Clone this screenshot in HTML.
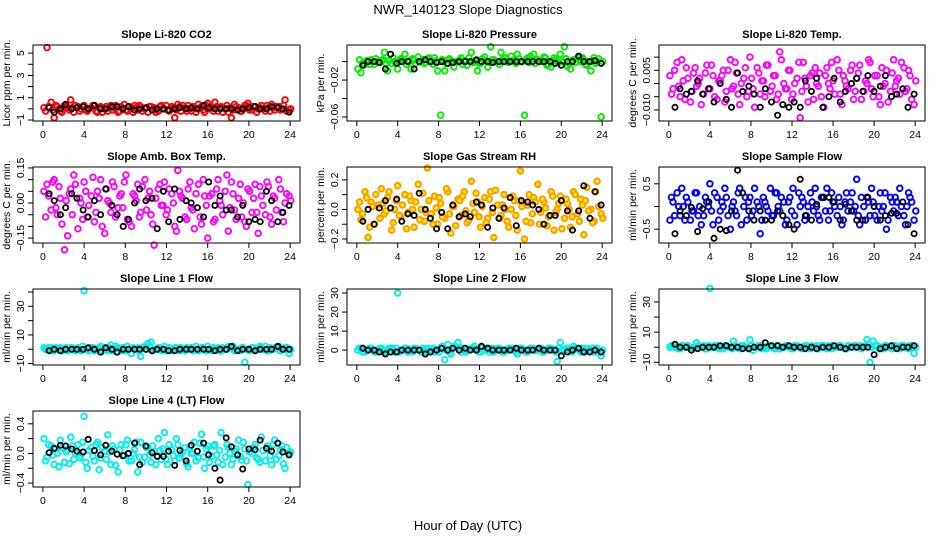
<!DOCTYPE html>
<html><head><meta charset="utf-8"><style>
html,body{margin:0;padding:0;background:#fff;}
svg{display:block;font-family:"Liberation Sans",sans-serif;}
</style></head><body>
<svg id="chart" width="936" height="540" viewBox="0 0 936 540" xmlns="http://www.w3.org/2000/svg">
<rect width="936" height="540" fill="#fff"/>
<text x="468" y="14" font-size="13" text-anchor="middle">NWR_140123  Slope Diagnostics</text>
<text x="468" y="530" font-size="13" text-anchor="middle">Hour of Day (UTC)</text>
</svg>
<script>
const cHours=[0.1,0.4,0.8,1.1,1.4,1.7,2.1,2.4,2.7,3.0,3.4,3.7,4.0,4.3,4.7,5.0,5.3,5.6,6.0,6.3,6.6,6.9,7.3,7.6,7.9,8.2,8.6,8.9,9.2,9.5,9.9,10.2,10.5,10.8,11.2,11.5,11.8,12.1,12.5,12.8,13.1,13.4,13.8,14.1,14.4,14.7,15.1,15.4,15.7,16.0,16.4,16.7,17.0,17.3,17.7,18.0,18.3,18.6,19.0,19.3,19.6,19.9,20.3,20.6,20.9,21.2,21.6,21.9,22.2,22.5,22.9,23.2,23.5,23.9];
const bHours=[0.6,1.1,1.7,2.2,2.8,3.3,3.9,4.4,5.0,5.6,6.1,6.7,7.2,7.8,8.3,8.9,9.4,10.0,10.6,11.1,11.7,12.2,12.8,13.3,13.9,14.4,15.0,15.6,16.1,16.7,17.2,17.8,18.3,18.9,19.4,20.0,20.6,21.1,21.7,22.2,22.8,23.3,23.9];
const xTicks=[0,4,8,12,16,20,24];

const co2Col=[0.1,5.5,0.6,-0.8,0.2,-0.2,0.3,0.1,0.8,-0.3,0.2,0.0,0.3,-0.2,0.1,0.3,-0.3,0.2,0.0,-0.2,0.3,0.1,-0.3,0.2,0.4,-0.2,0.1,0.3,-0.1,0.2,0.0,-0.3,0.2,0.1,-0.2,0.3,0.0,-0.1,0.2,-0.8,0.4,-0.2,0.1,0.3,-0.2,0.1,0.4,0.2,-0.3,0.5,0.1,0.6,-0.2,0.2,0.0,-0.3,-0.8,0.4,0.1,-0.2,0.3,0.5,-0.1,0.2,0.0,0.3,-0.2,0.1,0.4,-0.1,0.2,0.0,0.8,-0.1];
const co2Col2=[-0.2,0.2,-0.1,0.3,0.0,-0.3,0.2,-0.1,0.1,0.3,-0.2,0.2,-0.1,0.0,0.3,-0.2,0.1,-0.3,0.2,0.1,-0.1,0.3,-0.2,0.0,-0.1,0.2,-0.3,0.1,0.3,-0.2,0.1,0.2,-0.1,-0.3,0.2,0.0,0.3,-0.2,0.1,-0.1,0.2,0.3,-0.2,0.0,0.2,-0.3,0.1,-0.1,0.3,0.0,-0.2,0.2,0.1,-0.3,0.3,0.1,-0.1,0.2,-0.2,0.0,0.3,-0.1,0.2,-0.3,0.1,0.0,0.3,-0.2,0.1,0.2,-0.1,0.3,-0.2,0.0];
const co2Blk=[0.1,-0.3,0.0,0.4,0.0,0.1,0.2,0.0,0.3,0.0,0.0,0.2,0.2,0.0,0.2,-0.1,0.0,0.1,-0.1,0.0,0.0,-0.1,0.0,0.1,0.0,0.1,0.0,0.3,0.1,0.0,0.0,0.0,0.0,-0.1,0.0,0.1,0.2,0.0,0.0,0.2,0.1,0.0,-0.3];
const presCol=[-8,-12,-3,0,2,-3,0,1,10,-10,-2,0,-8,3,8,0,-8,2,5,0,-2,3,0,4,-10,-58,-10,2,0,-6,0,4,0,-4,10,0,-10,-2,5,-6,16,2,0,10,4,0,6,2,8,0,-58,4,6,8,2,0,5,-4,-6,4,0,8,16,-5,-8,2,4,0,2,-4,-10,4,0,-60];
const presCol2=[2,-2,1,-3,0,3,-1,2,-2,1,4,-1,0,2,-3,1,3,-2,0,2,-1,4,-3,1,0,2,-2,3,-1,0,2,-3,1,4,-1,0,-2,3,1,-1,2,0,-3,2,4,-1,1,-2,3,0,2,-1,3,-2,1,0,4,-3,1,2,-1,0,3,-2,1,-1,2,4,-3,0,1,-2,3,0];
const presBlk=[-4,0,0,-1,-8,8,-2,0,0,-8,0,2,0,-1,0,-2,-1,0,0,0,2,0,0,-1,0,0,0,0,0,0,0,0,0,0,-2,-4,0,0,6,0,0,1,-2];
const tempCol=[3,-2,8,-5,1,6,-7,4,-1,2,-4,7,-2,3,-6,1,5,-3,9,-1,4,-8,2,-5,10,-2,6,-4,1,7,-3,3,-6,12,0,-2,5,-4,2,-13,8,-1,3,-6,0,4,-9,6,-2,1,9,-4,3,-1,5,-6,2,7,-3,0,8,-5,3,-8,-1,5,-3,9,1,-4,6,-2,3,-8];
const tempCol2=[-4,5,-1,9,-6,2,-3,6,0,-8,4,-2,7,-5,1,3,-7,5,-2,8,-4,0,6,-3,2,-9,4,1,-5,7,-1,3,-4,9,-2,5,-6,0,8,-3,2,-7,4,6,-1,-5,3,0,8,-4,5,-8,1,-2,7,-3,4,-6,1,9,-2,3,-5,6,0,-7,4,-1,2,8,-3,5,-6,1];
const tempBlk=[-9,-2,-4,-3,1,-4,-2,-7,0,-6,-9,4,-3,-1,-4,-9,-2,-7,-12,-8,-9,-7,-9,1,-3,2,-9,-5,2,-7,-3,0,2,-3,3,-3,-1,3,-5,-4,-2,-9,-4];
const ambCol=[5,8,-3,10,-5,2,-20,-14,6,12,-11,0,9,-6,3,-8,5,10,-13,1,-4,7,-2,4,9,-7,-10,3,8,-4,10,2,-5,-18,6,-1,9,-3,4,-10,14,3,-6,6,-2,-11,8,-9,3,-15,4,-7,10,-1,5,-12,9,-3,2,-6,-8,6,-4,8,-13,3,-5,7,-9,2,10,-4,0,3];
const ambCol2=[-6,3,9,-2,7,-9,1,4,-5,8,2,-7,5,-1,11,-4,2,-10,6,0,9,-6,3,-2,12,-8,4,1,-6,7,-3,5,-9,2,8,-1,-5,6,0,-12,5,2,-7,9,-3,4,-6,10,-1,3,-8,6,1,-5,12,-2,4,-7,8,0,-10,5,2,-4,7,-1,9,-6,3,-3,6,-8,4,1];
const ambBlk=[4,1,-5,-2,4,2,-3,-6,1,-5,6,-1,-5,-10,-7,0,6,1,2,-11,5,-8,6,-7,1,0,-2,-6,9,-1,3,-3,-3,-6,-1,-8,-7,-8,5,1,-8,-4,-1];
const rhCol=[0,-7,12,-19,5,-10,3,14,-3,8,-14,0,16,-5,10,-2,6,-12,17,0,-8,28,-3,9,-10,4,-6,12,-16,2,7,-4,12,-9,19,-2,5,-12,8,-6,12,-19,3,-4,10,-8,0,6,-14,26,-20,3,-9,8,17,-2,5,-11,12,-14,0,9,-6,4,-12,12,-3,7,-17,15,0,-8,19,-3];
const rhCol2=[5,-3,8,-12,2,10,-6,4,-1,12,-9,6,-4,3,-13,9,0,5,-7,11,-2,6,-10,1,8,-5,14,-3,2,-11,6,9,-1,-7,4,11,-5,2,-9,7,-2,13,-6,3,0,-12,9,-4,6,2,-8,10,-3,5,-10,7,1,-5,9,-2,4,-13,7,0,-5,10,-8,3,6,-1,-9,12,2,-6];
const rhBlk=[-8,0,-10,1,6,1,7,-8,-3,-4,11,0,-6,-13,-2,-13,3,-5,-3,-5,5,3,-12,1,-6,1,8,-11,6,5,3,0,-10,-4,-4,6,-1,-14,-1,16,-6,12,3];
const flowCol=[-3,1,3,-2,0,2,-3,-1,3,0,-2,1,5,-4,2,-1,0,2,-5,1,-2,4,0,-3,2,-1,1,-6,2,0,4,-2,3,-1,1,-3,2,4,-4,0,1,-2,3,-1,0,-3,2,4,-1,1,-2,0,-3,3,1,-1,6,-4,0,2,-2,1,-3,3,0,-5,2,-1,1,4,-2,0,2,-3];
const flowCol2=[2,-2,0,4,-3,1,-1,3,-2,-4,2,0,-1,3,-3,1,4,-2,0,-1,3,-4,2,1,-2,4,0,-3,1,-1,-2,3,0,2,-4,1,-1,-2,3,2,-3,0,1,4,-2,2,-1,-3,3,0,2,-4,1,-1,3,0,-2,2,-3,1,4,-2,0,-1,3,-3,1,2,-2,0,-4,3,1,-1];
const flowBlk=[-6,-1,-2,-0.2,-5.5,-0.5,1,-7,-5,-5.3,-1,8,3,-1,-3,-1,-3,-3,-1,-2,-4,-5,6,-2,-3,0.5,2,2,1,-3,0.5,-1,-3,-3,2,0,-3,-2,-1.5,-1.5,1,-4,-6];
const l1Col=[1,0,1,-1,0,1,0,-1,1,0,1,-1,41,0,1,-1,0,2,1,-1,3,0,1,-1,0,2,-3,0,1,-5,2,4,5,0,1,-1,2,0,-1,1,0,1,-1,0,1,0,-1,1,0,2,-1,0,1,-1,0,2,1,-1,0,1,-9,0,1,-1,0,1,2,-1,0,1,2,0,1,-3];
const l1Col2=[0,1,-1,1,0,-1,1,0,1,-1,0,2,0,-1,1,0,1,-1,0,1,-1,2,0,1,-1,0,1,0,-1,1,0,2,-1,0,1,0,-1,1,0,1,-1,0,1,0,-1,2,0,1,-1,0,1,0,-1,1,0,1,2,0,-1,1,0,-1,1,0,2,0,-1,1,0,1,-1,0,1,0];
const l1Blk=[-1,0,-1,0,0,0,0,1,0,-2,1,0,-2,0,0,0,0,0,-1,0,0,-1,-1,0,0,0,0,0,0,-1,0,0,2,-1,0,0,-1,0,0,0,2,0,0];
const l2Col=[0,1,-1,0,1,-1,0,1,-1,0,1,-1,30,0,1,-1,0,1,0,-1,0,1,0,-1,0,1,-5,3,-2,2,4,-1,1,0,1,2,0,-1,0,1,0,-1,1,0,-1,0,1,0,-2,1,0,-1,1,0,0,1,-1,0,1,0,-6,4,0,1,0,2,1,-1,0,1,0,-1,1,-3];
const l2Col2=[1,-1,0,1,0,-1,1,0,-1,1,0,1,-1,0,1,0,-1,1,0,1,-1,0,1,0,-1,2,0,-1,1,2,0,1,-1,0,1,0,-1,1,0,-1,1,0,1,-1,0,1,0,-1,0,1,-1,0,1,0,1,-1,0,1,0,-1,1,0,1,0,-1,1,0,1,-1,0,1,0,-1,0];
const l2Blk=[1,0,0,-1,-2,-1,-1,0,0,0,0,-2,-1,0,1,0,1,0,1,0,0,2,1,0,0,0,0,1,0,0,0,1,0,0,0,-3,-1,0,1,-1,-1,0,-1];
const l3Col=[0,1,0,-1,1,0,-1,0,3,0,1,-1,39,0,1,0,-1,1,0,4,0,-1,1,0,5,-2,0,1,0,-1,1,0,1,-1,0,1,0,-1,1,0,0,1,-1,0,1,0,1,-1,0,1,0,1,0,-1,0,1,0,1,0,5,-10,4,1,0,-1,1,0,1,0,-1,1,0,1,-4];
const l3Col2=[1,0,-1,1,0,1,-1,0,1,0,-1,1,0,1,-1,0,1,0,-1,1,0,1,0,-1,1,0,1,-1,0,1,0,-1,1,0,1,0,-1,1,0,-1,1,0,1,0,-1,1,0,1,-1,0,1,0,-1,1,0,1,0,-1,1,2,0,1,-1,0,1,0,-1,1,0,1,0,-1,1,0];
const l3Blk=[2,0,0,-2,-1,0,0,0,1,1,0,0,-1,-1,0,0,3,1,1,0,1,0,0,-1,0,-1,0,0,1,0,-1,0,0,0,0,-5,-1,0,1,-1,0,0,1];
const l4Col=[20,-5,10,-15,0,18,-12,5,22,-8,12,-3,50,-20,8,-10,15,-6,3,25,-15,6,-25,12,-2,18,-10,5,-25,15,-5,8,-12,3,20,-8,28,-15,5,-10,12,-2,8,-18,0,15,-6,26,-20,10,-4,12,-12,28,-5,8,-15,3,18,-9,6,-42,0,12,-8,22,-10,5,-15,18,-3,10,-20,0];
const l4Col2=[-10,12,-2,6,-18,8,2,-14,10,0,-6,15,-12,4,-4,12,-22,8,-8,2,10,-16,5,-3,12,-10,0,15,-5,-12,8,-2,10,-15,4,6,-8,12,-3,20,-6,2,-14,8,0,-10,14,-5,6,-12,10,-2,4,-15,12,0,-8,6,-4,15,-10,2,8,-6,-12,4,10,-3,12,-8,5,-14,8,2];
const l4Blk=[1,7,11,10,6,3,2,19,4,-2,11,3,-1,-3,0,14,-15,10,1,-4,-4,3,-16,4,-10,11,3,14,-2,-20,-36,21,9,-2,-21,6,5,18,7,3,14,2,-2];

const NS="http://www.w3.org/2000/svg";
const svg=document.getElementById('chart');
function mk(tag,attrs,parent){const e=document.createElementNS(NS,tag);for(const k in attrs)e.setAttribute(k,attrs[k]);(parent||svg).appendChild(e);return e;}

const colsX=[[33,300],[347,612],[659,925]];
const panels=[
 {t:'Slope Li-820 CO2',yl:'Licor ppm per min.',c:0,r:0,sc:1,y0:-1.09,y1:5.73,ticks:[-1,0,1,2,3,4,5],labs:[-1,1,3,5],col:'#ff0000',cv:co2Col,cv2:co2Col2,bv:co2Blk,fmt:v=>String(v).replace('-','\u2212')},
 {t:'Slope Li-820 Pressure',yl:'kPa per min.',c:1,r:0,sc:0.001,y0:-0.0644,y1:0.018,ticks:[-0.06,-0.04,-0.02,0],labs:[-0.06,-0.02],col:'#00ee00',cv:presCol,cv2:presCol2,bv:presBlk,fmt:v=>v.toFixed(2).replace('-','\u2212')},
 {t:'Slope Li-820 Temp.',yl:'degrees C per min.',c:2,r:0,sc:0.001,y0:-0.0142,y1:0.0146,ticks:[-0.01,-0.005,0,0.005,0.01],labs:[-0.01,0.005],col:'#ff00ff',cv:tempCol,cv2:tempCol2,bv:tempBlk,fmt:v=>v.toFixed(3).replace('-','\u2212')},
 {t:'Slope Amb. Box Temp.',yl:'degrees C per min.',c:0,r:1,sc:0.01,y0:-0.171,y1:0.154,ticks:[-0.15,-0.1,-0.05,0,0.05,0.1,0.15],labs:[-0.15,0,0.15],col:'#ff00ff',cv:ambCol,cv2:ambCol2,bv:ambBlk,fmt:v=>v.toFixed(2).replace('-','\u2212')},
 {t:'Slope Gas Stream RH',yl:'percent per min.',c:1,r:1,sc:0.01,y0:-0.227,y1:0.287,ticks:[-0.2,-0.1,0,0.1,0.2],labs:[-0.2,0,0.2],col:'#ff9900',fill:'#ffee00',cv:rhCol,cv2:rhCol2,bv:rhBlk,fmt:v=>v.toFixed(1).replace('-','\u2212')},
 {t:'Slope Sample Flow',yl:'ml/min per min.',c:2,r:1,sc:0.1,y0:-0.804,y1:0.87,ticks:[-0.5,0,0.5],labs:[-0.5,0.5],col:'#0000ff',cv:flowCol,cv2:flowCol2,bv:flowBlk,fmt:v=>v.toFixed(1).replace('-','\u2212')},
 {t:'Slope Line 1 Flow',yl:'ml/min per min.',c:0,r:2,sc:1,y0:-11.0,y1:42.1,ticks:[-10,0,10,20,30,40],labs:[-10,10,30],col:'#00eeee',cv:l1Col,cv2:l1Col2,bv:l1Blk,fmt:v=>String(v).replace('-','\u2212')},
 {t:'Slope Line 2 Flow',yl:'ml/min per min.',c:1,r:2,sc:1,y0:-7.8,y1:32.1,ticks:[0,10,20,30],labs:[0,10,20,30],col:'#00eeee',cv:l2Col,cv2:l2Col2,bv:l2Blk,fmt:v=>String(v)},
 {t:'Slope Line 3 Flow',yl:'ml/min per min.',c:2,r:2,sc:1,y0:-11.8,y1:38.6,ticks:[-10,0,10,20,30],labs:[-10,10,30],col:'#00eeee',cv:l3Col,cv2:l3Col2,bv:l3Blk,fmt:v=>String(v).replace('-','\u2212')},
 {t:'Slope Line 4 (LT) Flow',yl:'ml/min per min.',c:0,r:3,sc:0.01,y0:-0.453,y1:0.573,ticks:[-0.4,-0.2,0,0.2,0.4],labs:[-0.4,0,0.4],col:'#00eeee',cv:l4Col,cv2:l4Col2,bv:l4Blk,fmt:v=>v.toFixed(1).replace('-','\u2212')}
];

panels.forEach((p,pi)=>{
  const L=colsX[p.c][0],R=colsX[p.c][1],T=45+122*p.r,B=T+76;
  const g=mk('g',{});
  
  
  const xs=h=>L+(h+0.96)/25.92*(R-L);
  const ys=v=>B-(v-p.y0)/(p.y1-p.y0)*(B-T);
  const ti=mk('text',{x:(L+R)/2,y:T-7,'font-size':11,'font-weight':'bold','text-anchor':'middle'},g);
  ti.textContent=p.t;
  
  
  const cg=mk('g',{fill:p.fill||'none',stroke:p.col,'stroke-width':1.9},g);
  
  
  const nc=Math.min(cHours.length,p.cv.length);
  for(let i=0;i<nc;i++){
    const pt=mk('circle',{cx:xs(cHours[i]).toFixed(1),cy:ys(p.cv[i]*p.sc).toFixed(1),r:2.8},cg);
    
    
  }
  const nc2=Math.min(cHours.length,p.cv2.length);
  for(let i=0;i<nc2;i++){
    const pt=mk('circle',{cx:xs(cHours[i]+0.16).toFixed(1),cy:ys(p.cv2[i]*p.sc).toFixed(1),r:2.8},cg);
    
    
  }
  const bg=mk('g',{fill:'none',stroke:'#000','stroke-width':1.8},g);
  
  
  const nb=Math.min(bHours.length,p.bv.length);
  for(let i=0;i<nb;i++){
    const pt=mk('circle',{cx:xs(bHours[i]).toFixed(1),cy:ys(p.bv[i]*p.sc).toFixed(1),r:2.6},bg);
    
    
  }
  const box=mk('rect',{x:L,y:T,width:R-L,height:B-T,fill:'none',stroke:'#000','stroke-width':1},g);
  
  
  xTicks.forEach(t=>{
    const x=xs(t);
    mk('line',{x1:x,x2:x,y1:B,y2:B+5,stroke:'#000'},g);
    const tx=mk('text',{x:x,y:B+17,'font-size':10.5,'text-anchor':'middle'},g);
    tx.textContent=t;
    
    
  });
  p.ticks.forEach(t=>{
    const y=ys(t);
    mk('line',{x1:L-5,x2:L,y1:y,y2:y,stroke:'#000'},g);
  });
  p.labs.forEach(t=>{
    const y=ys(t);
    const tx=mk('text',{x:0,y:0,'font-size':10.5,'text-anchor':'middle',transform:`translate(${L-9},${y}) rotate(-90)`},g);
    tx.textContent=p.fmt(t);
    
    
  });
  const yl=mk('text',{x:0,y:0,'font-size':10.5,'text-anchor':'middle',transform:`translate(${L-23},${(T+B)/2}) rotate(-90)`},g);
  yl.textContent=p.yl;
  
  
});
</script>
</body></html>
